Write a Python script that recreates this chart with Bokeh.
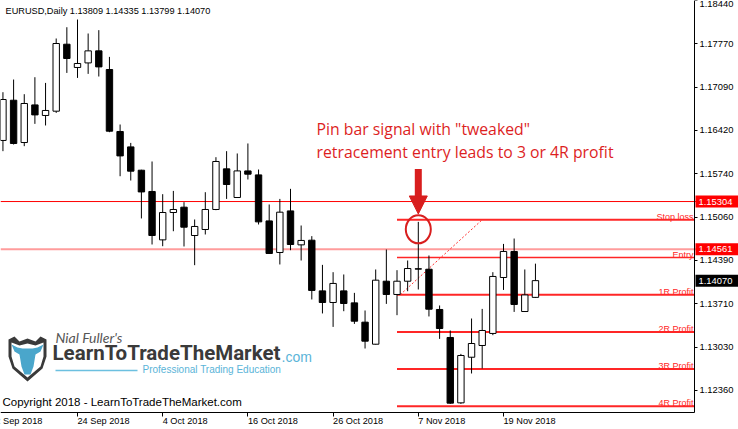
from bokeh.plotting import figure
from bokeh.models import (Range1d, FixedTicker, PrintfTickFormatter, Label, Span,
                          Arrow, NormalHead, ColumnDataSource)
from bokeh.core.properties import value
from bokeh.embed import file_html
from bokeh.resources import INLINE

# ---------------- data ----------------
dates = ["13 Sep 2018", "14 Sep 2018", "17 Sep 2018", "18 Sep 2018", "19 Sep 2018",
         "20 Sep 2018", "21 Sep 2018", "24 Sep 2018", "25 Sep 2018", "26 Sep 2018",
         "27 Sep 2018", "28 Sep 2018", "1 Oct 2018", "2 Oct 2018", "3 Oct 2018",
         "4 Oct 2018", "5 Oct 2018", "8 Oct 2018", "9 Oct 2018", "10 Oct 2018",
         "11 Oct 2018", "12 Oct 2018", "15 Oct 2018", "16 Oct 2018", "17 Oct 2018",
         "18 Oct 2018", "19 Oct 2018", "22 Oct 2018", "23 Oct 2018", "24 Oct 2018",
         "25 Oct 2018", "26 Oct 2018", "29 Oct 2018", "30 Oct 2018", "31 Oct 2018",
         "1 Nov 2018", "2 Nov 2018", "5 Nov 2018", "6 Nov 2018", "7 Nov 2018",
         "8 Nov 2018", "9 Nov 2018", "12 Nov 2018", "13 Nov 2018", "14 Nov 2018",
         "15 Nov 2018", "16 Nov 2018", "19 Nov 2018", "20 Nov 2018", "21 Nov 2018",
         "22 Nov 2018"]
opens = [1.16257, 1.16885, 1.16225, 1.16812, 1.16647, 1.16714, 1.17759, 1.17396, 1.17467, 1.17655,
         1.17364, 1.16397, 1.16157, 1.15793, 1.15461, 1.14706, 1.15133, 1.15216, 1.14774, 1.14868,
         1.15180, 1.15814, 1.15367, 1.15782, 1.15720, 1.15002, 1.14509, 1.15158, 1.14628, 1.14701,
         1.13910, 1.13729, 1.13910, 1.13723, 1.13422, 1.13078, 1.14061, 1.13854, 1.14061, 1.14255,
         1.14248, 1.13620, 1.13183, 1.12163, 1.12875, 1.13058, 1.13246, 1.14119, 1.14525, 1.13588,
         1.13809]
highs = [1.17010, 1.17208, 1.16979, 1.17244, 1.17155, 1.17848, 1.18024, 1.18144, 1.17926, 1.17978,
         1.17561, 1.16506, 1.16219, 1.15800, 1.15929, 1.15419, 1.15470, 1.15294, 1.15024, 1.15450,
         1.15996, 1.16090, 1.16054, 1.16210, 1.15804, 1.15258, 1.15345, 1.15502, 1.14930, 1.14764,
         1.14316, 1.14202, 1.14166, 1.13879, 1.13604, 1.14244, 1.14556, 1.14233, 1.14384, 1.14987,
         1.14462, 1.13682, 1.13292, 1.12927, 1.13479, 1.13629, 1.14202, 1.14643, 1.14727, 1.14244,
         1.14335]
lows = [1.16090, 1.16194, 1.16168, 1.16516, 1.16491, 1.16687, 1.17311, 1.17233, 1.17296, 1.17255,
        1.16386, 1.15699, 1.15632, 1.15040, 1.14634, 1.14607, 1.14841, 1.14603, 1.14311, 1.14790,
        1.15169, 1.15345, 1.15361, 1.15648, 1.14946, 1.14488, 1.14322, 1.14545, 1.14384, 1.13776,
        1.13558, 1.13348, 1.13593, 1.13395, 1.13011, 1.13073, 1.13707, 1.13531, 1.13905, 1.13932,
        1.13511, 1.13161, 1.12147, 1.12147, 1.12621, 1.12699, 1.13219, 1.13925, 1.13582, 1.13588,
        1.13799]
closes = [1.16896, 1.16210, 1.16834, 1.16656, 1.16725, 1.17770, 1.17536, 1.17458, 1.17655, 1.17405,
          1.16402, 1.16016, 1.15778, 1.15454, 1.14774, 1.15133, 1.15180, 1.14904, 1.14915, 1.15180,
          1.15929, 1.15570, 1.15782, 1.15731, 1.14987, 1.14494, 1.15138, 1.14634, 1.14697, 1.13917,
          1.13729, 1.14026, 1.13713, 1.13437, 1.13125, 1.14077, 1.13854, 1.14061, 1.14259, 1.14250,
          1.13624, 1.13323, 1.12158, 1.12902, 1.13089, 1.13292, 1.14135, 1.14525, 1.13698, 1.13847,
          1.14070]

x_tick_labels = ["24 Sep 2018", "4 Oct 2018", "16 Oct 2018", "26 Oct 2018", "7 Nov 2018", "19 Nov 2018"]
first_cut_label = "12 Sep 2018"
y_ticks = [1.18440, 1.17770, 1.17090, 1.16420, 1.15740, 1.15060, 1.14390, 1.13710, 1.13030, 1.12360]

hline_red = 1.15304
hline_pink = 1.14561
level_names = ["Stop loss", "Entry", "1R Profit", "2R Profit", "3R Profit", "4R Profit"]
level_values = [1.1502, 1.1443, 1.1385, 1.1327, 1.1269, 1.1211]
pin_bar_date = "7 Nov 2018"
levels_start_date = "5 Nov 2018"

# ---------------- layout helpers (reference pixel -> data) ----------------
W, H = 738, 429


def rx(px):
    return 47 + (px - 503) / 10.65


def ry(py):
    return 1.17770 - (py - 43) / 6409.0


XMIN, XMAX = rx(0), rx(W)
YMIN, YMAX = ry(H), ry(0)
AXIS_X, AXIS_Y = rx(694), ry(411.5)

RED = "#ff2626"
TXT_RED = "#dd1f1f"
FONT = "Liberation Sans"

p = figure(width=W, height=H, x_range=Range1d(XMIN, XMAX), y_range=Range1d(YMIN, YMAX),
           output_backend="svg", toolbar_location=None, y_axis_location="right", min_border=0)
p.outline_line_color = None
p.grid.visible = False
p.background_fill_color = "white"
p.border_fill_color = "white"

# axes drawn at fixed positions inside the canvas (MT4 style)
p.yaxis.fixed_location = AXIS_X
p.yaxis.bounds = (AXIS_Y, YMAX)
p.yaxis.ticker = FixedTicker(ticks=y_ticks)
p.yaxis.formatter = PrintfTickFormatter(format="%.5f")
p.yaxis.major_tick_out = 3
p.yaxis.major_tick_in = 0
p.yaxis.minor_tick_out = 0
p.yaxis.minor_tick_in = 0
p.yaxis.major_label_standoff = 2
p.yaxis.major_label_text_font = FONT
p.yaxis.major_label_text_font_size = "9.4px"
p.yaxis.major_label_text_color = "black"
p.yaxis.axis_line_color = "black"
p.yaxis.major_tick_line_color = "black"

idx = list(range(len(dates)))
tick_idx = [dates.index(d) for d in x_tick_labels]
p.xaxis.fixed_location = AXIS_Y
p.xaxis.bounds = (XMIN, AXIS_X)
p.xaxis.ticker = FixedTicker(ticks=tick_idx)
p.xaxis.major_label_overrides = {i: "" for i in tick_idx}
p.xaxis.major_tick_out = 4
p.xaxis.major_tick_in = 0
p.xaxis.minor_tick_out = 0
p.xaxis.minor_tick_in = 0
p.xaxis.axis_line_color = "black"

# MT4 date labels start at their tick (left aligned)
for i, lab in zip(tick_idx, x_tick_labels):
    p.add_layout(Label(x=i, y=AXIS_Y, text=lab, text_align="left", text_baseline="top",
                       y_offset=-4, text_font=FONT, text_font_size="9.2px", text_color="black"))
p.add_layout(Label(x=tick_idx[0] - 8, y=AXIS_Y, text=first_cut_label, text_align="left",
                   text_baseline="top", x_offset=-2, y_offset=-4, text_font=FONT,
                   text_font_size="9.2px", text_color="black"))

# horizontal lines across the chart (behind the candles)
p.add_layout(Span(location=hline_pink, dimension="width", line_color="#ff9c9c", line_width=2,
                  level="underlay"))
p.add_layout(Span(location=hline_red, dimension="width", line_color="#ff0000", line_width=1,
                  level="underlay"))

start_i = dates.index(levels_start_date)
lev_src = ColumnDataSource(dict(x0=[start_i] * len(level_values), x1=[AXIS_X] * len(level_values),
                                y=level_values, w=[2, 1.5, 2, 2, 2, 2]))
p.segment(x0="x0", y0="y", x1="x1", y1="y", line_width="w", line_color=RED, source=lev_src)

# dotted trend line from 1R at start bar up to the stop level
p.line(x=[start_i + 0.3, start_i + 8.0], y=[level_values[2], level_values[0]],
       line_color="#ff3030", line_width=1, line_dash="2 2")

# candles
top = [max(o, c) for o, c in zip(opens, closes)]
bot = [min(o, c) for o, c in zip(opens, closes)]
fill = ["white" if c >= o else "black" for o, c in zip(opens, closes)]
src = ColumnDataSource(dict(x=idx, h=highs, l=lows, top=top, bot=bot, fill=fill))
p.segment(x0="x", y0="h", x1="x", y1="l", line_color="black", line_width=1, source=src)
p.vbar(x="x", width=0.6, top="top", bottom="bot", fill_color="fill", line_color="black",
       line_width=1, source=src)

# level labels
for name, lv in zip(level_names, level_values):
    p.add_layout(Label(x=AXIS_X, y=lv, text=name, text_align="right", text_baseline="alphabetic",
                       x_offset=-1, y_offset=3, text_font=FONT, text_font_size="9px",
                       text_color=RED))

# right-axis price boxes
box_vals = [hline_red, hline_pink, closes[-1]]
box_cols = ["#ff0000", "#ff0000", "black"]
p.rect(x=[rx(716.5)] * 3, y=box_vals, width=43, height=12, width_units="screen",
       height_units="screen", fill_color=box_cols, line_color=None)
p.text(x=[rx(698)] * 3, y=box_vals, text=["%.5f" % v for v in box_vals], text_baseline="middle",
       text_font=value(FONT), text_font_size="9.4px", text_color="white")

# pin bar markers
pin_i = dates.index(pin_bar_date)
circle_y = 1.1487
p.ellipse(x=[pin_i], y=[circle_y], width=25, height=28, width_units="screen", height_units="screen",
          fill_color=None, line_color="#d81e1e", line_width=2)
p.add_layout(Arrow(end=NormalHead(size=18, fill_color="#d81e1e", line_color="#d81e1e"),
                   x_start=pin_i, y_start=1.1581, x_end=pin_i, y_end=1.1511,
                   line_color="#d81e1e", line_width=7))

# texts
p.add_layout(Label(x=rx(316), y=ry(139), text='Pin bar signal with "tweaked"',
                   text_font="Open Sans", text_font_size="15.8px", text_color=TXT_RED))
p.add_layout(Label(x=rx(316), y=ry(162), text="retracement entry leads to 3 or 4R profit",
                   text_font="Open Sans", text_font_size="15.8px", text_color=TXT_RED))
header = "EURUSD,Daily  %.5f %.5f %.5f %.5f" % (opens[-1], highs[-1], lows[-1], closes[-1])
p.text(x=[rx(5)], y=[ry(10.5)], text=[header], text_align="left", text_baseline="alphabetic",
       text_font=value(FONT), text_font_size="9.2px", text_color="black")
p.add_layout(Label(x=rx(2), y=ry(407.5), text="Copyright 2018 - LearnToTradeTheMarket.com",
                   text_font=FONT, text_font_size="11.5px", text_color="black"))


# logo
def poly(pts):
    return [rx(a) for a, b in pts], [ry(b) for a, b in pts]


outer = [(8, 339), (14, 336), (19, 341), (27, 338), (35, 341), (40, 336), (46, 339), (46, 356),
         (42, 368), (27, 381), (12, 368), (8, 356)]
inner = [(11, 342), (19, 345), (27, 343), (35, 345), (43, 342), (43, 356), (40, 366), (27, 377),
         (14, 366), (11, 356)]
bull = [(11, 344), (17, 347), (22, 348), (32, 348), (37, 347), (43, 344), (40, 351), (35, 354),
        (33, 366), (30, 374), (24, 374), (21, 366), (19, 354), (14, 351)]
for pts, col in [(outer, "#3a3a3a"), (inner, "white"), (bull, "#4aa6cb")]:
    xs, ys = poly(pts)
    p.patch(xs, ys, fill_color=col, line_color=None)

p.add_layout(Label(x=rx(55), y=ry(345), text="Nial Fuller's", text_font="Lato",
                   text_font_style="italic", text_font_size="14px", text_color="#555555"))
p.add_layout(Label(x=rx(52), y=ry(364.5), text="LearnToTradeTheMarket", text_font="Roboto",
                   text_font_style="bold", text_font_size="20.5px", text_color="#3a3a3a"))
p.add_layout(Label(x=rx(281), y=ry(364.5), text=".com", text_font=FONT,
                   text_font_size="14px", text_color="#5ab4d8"))
p.line(x=[rx(55), rx(137)], y=[ry(370), ry(370)], line_color="#6cc0e0", line_width=1.5)
p.add_layout(Label(x=rx(142), y=ry(374), text="Professional Trading Education",
                   text_font=FONT, text_font_size="10px", text_color="#5ab4d8"))

open("out.html", "w").write(file_html(p, INLINE))
